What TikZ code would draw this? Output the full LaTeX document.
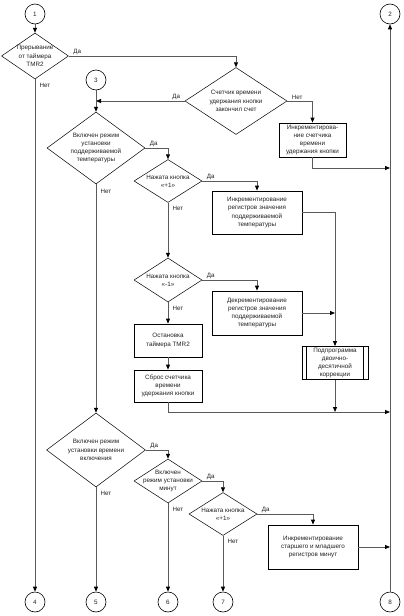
\documentclass[tikz,border=0pt]{standalone}
\usepackage{fontspec}
\setmainfont{Liberation Sans}
\usetikzlibrary{arrows.meta,shapes.geometric}
\definecolor{wirec}{HTML}{5A5A5A}
\definecolor{inkc}{HTML}{222222}

\begin{document}
\begin{tikzpicture}[x=1pt,y=-1pt,
  txt/.style={font=\fontsize{6.3}{8.3}\selectfont,text=inkc,align=center,inner sep=0pt},
  dec/.style={diamond,draw,line width=0.5pt,inner sep=0pt},
  blk/.style={txt,rectangle,draw,line width=0.8pt},
  conn/.style={txt,circle,draw,line width=0.6pt,minimum size=20pt},
  ans/.style={font=\fontsize{6.2}{7}\selectfont,text=inkc,inner sep=1.5pt},
  wire/.style={draw=wirec,line width=0.8pt},
  arr/.style={wire,-{Triangle[length=5pt,width=4pt,color=black]}}]
\fill[white] (0,0) rectangle (404,616);
\useasboundingbox (0,0) rectangle (404,616);

% off-page connectors
\node[conn] (c1) at (35,14) {1};
\node[conn] (c2) at (390,14) {2};
\node[conn] (c3) at (96,80) {3};
\node[conn] (c4) at (35,602) {4};
\node[conn] (c5) at (96,602) {5};
\node[conn] (c6) at (168,602) {6};
\node[conn] (c7) at (223,602) {7};
\node[conn] (c8) at (390,602) {8};

% decisions
\node[dec,minimum width=67pt,minimum height=46pt,label={[txt]center:{Прерывание\\от таймера\\TMR2}}] (d1) at (35,56) {};
\node[dec,minimum width=102pt,minimum height=67pt,label={[txt]center:{Счетчик времени\\удержания кнопки\\закончил счет}}] (d2) at (236,101) {};
\node[dec,minimum width=98pt,minimum height=72pt,label={[txt]center:{Включен режим\\установки\\поддерживаемой\\температуры}}] (d3) at (96,148) {};
\node[dec,minimum width=68pt,minimum height=43pt,label={[txt]center:{Нажата кнопка\\«+1»}}] (d4) at (168,181) {};
\node[dec,minimum width=68pt,minimum height=44pt,label={[txt]center:{Нажата кнопка\\«-1»}}] (d5) at (168,280) {};
\node[dec,minimum width=99pt,minimum height=74pt,label={[txt]center:{Включен режим\\установки времени\\включения}}] (d6) at (96,450) {};
\node[dec,minimum width=68pt,minimum height=44pt,label={[txt]center:{Включен\\режим установки\\минут}}] (d7) at (168,481) {};
\node[dec,minimum width=68pt,minimum height=43pt,label={[txt]center:{Нажата кнопка\\«+1»}}] (d8) at (223,514) {};

% processes
\node[blk,minimum width=67pt,minimum height=34pt] (b1) at (312.5,140) {Инкрементирова-\\ние счетчика\\времени\\удержания кнопки};
\node[blk,minimum width=90pt,minimum height=43pt] (b2) at (257,212.5) {Инкрементирование\\регистров значения\\поддерживаемой\\температуры};
\node[blk,minimum width=90pt,minimum height=44pt] (b3) at (257,313) {Декрементирование\\регистров значения\\поддерживаемой\\температуры};
\node[blk,minimum width=68pt,minimum height=33pt] (b4) at (168,340.5) {Остановка\\таймера TMR2};
\node[blk,minimum width=68pt,minimum height=32pt] (b5) at (168,386) {Сброс счетчика\\времени\\удержания кнопки};
\node[blk,minimum width=66pt,minimum height=33pt] (sub) at (335,363) {Подпрограмма\\двоично-\\десятичной\\коррекции};
\draw[line width=0.5pt] ([xshift=5pt]sub.north west) -- ([xshift=5pt]sub.south west);
\draw[line width=0.5pt] ([xshift=-5pt]sub.north east) -- ([xshift=-5pt]sub.south east);
\node[blk,minimum width=90pt,minimum height=44pt] (b6) at (313,547) {Инкрементирование\\старшего и младшего\\регистров минут};

\coordinate (j1) at (390,168);
\coordinate (j2) at (390,412);

% connectors
\draw[arr] (c1) -- (d1.north);
\draw[arr] (d1.east) -| (d2.north);
\draw[arr] (d1.south) -- (c4);
\draw[arr] (d2.west) -- (c3 |- d2.west);
\draw[arr] (c3) -- (d3.north);
\draw[arr] (d2.east) -| (b1.north);
\draw[arr] (b1.south) |- (j1);
\draw[arr] (c8) -- (c2);
\draw[arr] (d3.east) -| (d4.north);
\draw[arr] (d3.south) -- (d6.north);
\draw[arr] (d4.east) -| (b2.north);
\draw[arr] (d4.south) -- (d5.north);
\draw[arr] (b2.east) -| (sub.north);
\draw[arr] (b3.east) -- (sub.north |- b3.east);
\draw[arr] (d5.east) -| (b3.north);
\draw[arr] (d5.south) -- (b4.north);
\draw[arr] (b4.south) -- (b5.north);
\draw[arr] (b5.south) |- (j2);
\draw[arr] (sub.south) -- (sub.south |- j2);
\draw[arr] (d6.east) -| (d7.north);
\draw[arr] (d6.south) -- (c5);
\draw[arr] (d7.east) -| (d8.north);
\draw[arr] (d7.south) -- (c6);
\draw[arr] (d8.east) -| (b6.north);
\draw[arr] (d8.south) -- (c7);
\draw[arr] (b6.east) -- (b6.east -| c8);

% branch labels
\node[ans,anchor=south west] (y1) at ([xshift=3pt]d1.east) {Да};
\node[ans,anchor=north west] (n1) at ([xshift=3pt,yshift=-2pt]d1.south) {Нет};
\node[ans,anchor=south east] (y2) at ([xshift=-3pt]d2.west) {Да};
\node[ans,anchor=south west] (n2) at ([xshift=3pt]d2.east) {Нет};
\node[ans,anchor=south west] (y3) at ([xshift=3pt]d3.east) {Да};
\node[ans,anchor=north west] (n3) at ([xshift=3pt,yshift=-3pt]d3.south) {Нет};
\node[ans,anchor=south west] (y4) at ([xshift=3pt]d4.east) {Да};
\node[ans,anchor=north west] (n4) at ([xshift=3pt,yshift=-2pt]d4.south) {Нет};
\node[ans,anchor=south west] (y5) at ([xshift=3pt]d5.east) {Да};
\node[ans,anchor=north west] (n5) at ([xshift=3pt,yshift=-2pt]d5.south) {Нет};
\node[ans,anchor=south west] (y6) at ([xshift=3pt]d6.east) {Да};
\node[ans,anchor=north west] (n6) at ([xshift=3pt,yshift=-2pt]d6.south) {Нет};
\node[ans,anchor=south west] (y7) at ([xshift=3pt]d7.east) {Да};
\node[ans,anchor=north west] (n7) at ([xshift=3pt,yshift=-2pt]d7.south) {Нет};
\node[ans,anchor=south west] (y8) at ([xshift=3pt]d8.east) {Да};
\node[ans,anchor=north west] (n8) at ([xshift=3pt,yshift=-2pt]d8.south) {Нет};
\end{tikzpicture}
\end{document}
